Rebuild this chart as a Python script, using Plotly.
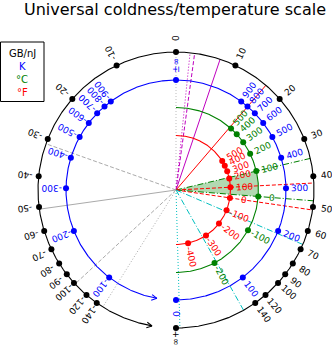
import numpy as np
import plotly.graph_objects as go

# ---------------- data ----------------
C_K = 13062.0          # coldness (GB/nJ) * temperature (K)
B0 = 44.2              # coldness at the 90 degree position

coldness_ticks = [0, 10, 20, 30, 40, 50, 60, 70, 80, 90, 100, 120, 140,
                  -10, -20, -30, -40, -50, -60, -70, -80, -90, -100, -120, -140]
coldness_labels = [str(v) for v in coldness_ticks]
kelvin_ticks = [100, 200, 300, 400, 500, 600, 700, 800, 900,
                -100, -200, -300, -400, -500, -600, -700, -800, -900]
celsius_ticks = [-200, -100, 0, 100, 200, 300, 400, 500]
fahrenheit_ticks = [-400, -300, -200, -100, 0, 100, 200, 300, 400, 500]

# reference temperatures (K) drawn as rays: (T, colour, dash)
ref_T = [5778, 4350, 1800, 798, 373.15, 273.15, 310.93, 255.37, 194.7, 77.36, 4.2,
         -418.7, -256.9, -128.6, -84.8]
ref_color = ['#bf00bf', '#bf00bf', '#bf00bf', 'red', 'green', 'green', 'red', 'red',
             '#00bfbf', '#00bfbf', '#00bfbf', '#aaaaaa', '#aaaaaa', '#aaaaaa', '#aaaaaa']
ref_dash = ['dot', 'dash', 'solid', 'solid', 'dashdot', 'dashdot', 'dash', 'dash',
            'dashdot', 'dashdot', 'dot', 'dash', 'solid', 'dash', 'dot']

legend_items = ['GB/nJ', 'K', '°C', '°F']
legend_colors = ['black', 'blue', 'green', 'red']

# ---------------- geometry ----------------
R_BLACK, R_BLUE, R_GREEN, R_RED = 138.0, 110.0, 82.5, 54.5
LABEL_OFF = 14.0
DASHES = {'dot': '1px,2px', 'dash': '4px,2px', 'dashdot': '6px,2px,1px,2px', 'solid': 'solid'}


def theta_beta(b):
    return 2 * np.degrees(np.arctan(np.asarray(b, dtype=float) / B0))


def beta_T(T):
    T = np.asarray(T, dtype=float)
    with np.errstate(divide='ignore'):
        return np.where(T == 0, np.inf, C_K / np.where(T == 0, 1, T))


def xy(r, th):
    t = np.radians(th)
    return r * np.sin(t), r * np.cos(t)


fig = go.Figure()
ann = []


def arc(r, t0, t1, color):
    th = np.linspace(t0, t1, 800)
    x, y = xy(r, th)
    fig.add_trace(go.Scatter(x=x, y=y, mode='lines', line=dict(color=color, width=1.1),
                             hoverinfo='skip'))


def chevron(r, th, color):
    px, py = xy(r, th)
    t = np.radians(th)
    d = np.array([-np.cos(t), np.sin(t)])
    for s in (1, -1):
        a = np.radians(28 * s)
        rot = np.array([[np.cos(a), -np.sin(a)], [np.sin(a), np.cos(a)]])
        v = rot @ d
        fig.add_trace(go.Scatter(x=[px - 6 * v[0], px], y=[py - 6 * v[1], py], mode='lines',
                                 line=dict(color=color, width=1.1), hoverinfo='skip'))


def dots(r, ths, color):
    x, y = xy(r, np.asarray(ths))
    fig.add_trace(go.Scatter(x=x, y=y, mode='markers',
                             marker=dict(color=color, size=6, line=dict(width=0)),
                             hoverinfo='skip'))


def labels(r, ths, texts, color, offs=None):
    for i, (th, tx) in enumerate(zip(ths, texts)):
        off = LABEL_OFF if offs is None else offs[i]
        x, y = xy(r + off, th)
        ang = th - 90
        while ang <= -180:
            ang += 360
        while ang > 180:
            ang -= 360
        ann.append(dict(x=x, y=y, xref='x', yref='y', text=tx, showarrow=False,
                        textangle=ang, font=dict(size=9, color=color, family='DejaVu Sans')))


# green shaded sector (0..100 degC)
t_a = float(theta_beta(beta_T(373.15)))
t_b = float(theta_beta(beta_T(273.15)))
th = np.linspace(t_a, t_b, 60)
sx, sy = xy(R_GREEN, th)
fig.add_trace(go.Scatter(x=np.r_[0, sx, 0], y=np.r_[0, sy, 0], mode='lines', fill='toself',
                         fillcolor='rgba(0,128,0,0.3)', line=dict(width=0), hoverinfo='skip'))

# rays
fig.add_trace(go.Scatter(x=[0, 0], y=[0, R_BLACK], mode='lines',
                         line=dict(color='#bbbbbb', width=1, dash=DASHES['dot']), hoverinfo='skip'))
ref_th = theta_beta(beta_T(ref_T))
for t, c, d in zip(ref_th, ref_color, ref_dash):
    x, y = xy(np.array([0, R_BLACK]), np.array([t, t]))
    fig.add_trace(go.Scatter(x=x, y=y, mode='lines', line=dict(color=c, width=1, dash=DASHES[d]),
                             hoverinfo='skip'))

# circles
arc(R_BLACK, -170, 180, 'black')
chevron(R_BLACK, -170, 'black')
arc(R_BLUE, -170, 180, 'blue')
chevron(R_BLUE, -170, 'blue')
arc(R_GREEN, 0, 180, 'green')
arc(R_RED, 0, 180, 'red')

# black: coldness
bt = list(theta_beta(coldness_ticks)) + [180.0]
dots(R_BLACK, bt, 'black')
labels(R_BLACK, bt, coldness_labels + ['+∞'], 'black',
       offs=[LABEL_OFF] * len(coldness_ticks) + [9.5])

# blue: kelvin
kt = list(theta_beta(beta_T(kelvin_ticks))) + [0.0, 180.0]
dots(R_BLUE, kt, 'blue')
labels(R_BLUE, kt, [str(v) for v in kelvin_ticks] + ['±∞', '0'], 'blue')

# green: celsius
ct = theta_beta(beta_T(np.array(celsius_ticks) + 273.15))
dots(R_GREEN, ct, 'green')
labels(R_GREEN, ct, [str(v) for v in celsius_ticks], 'green')

# red: fahrenheit
ft = theta_beta(beta_T((np.array(fahrenheit_ticks) + 459.67) / 1.8))
dots(R_RED, ft, 'red')
labels(R_RED, ft, [str(v) for v in fahrenheit_ticks], 'red')

# legend box
shapes = [dict(type='rect', xref='x', yref='y', x0=-175.5, x1=-132, y0=148, y1=88.5,
               line=dict(color='black', width=1), fillcolor='white', layer='above')]
for i, (t, c) in enumerate(zip(legend_items, legend_colors)):
    ann.append(dict(x=-154, y=137 - 13.3 * i, xref='x', yref='y', text=t, showarrow=False,
                    font=dict(size=10, color=c, family='DejaVu Sans')))

ann.append(dict(x=-1, y=180.5, xref='x', yref='y', text='Universal coldness/temperature scale',
                showarrow=False, font=dict(size=16, color='black', family='DejaVu Sans')))

fig.update_layout(
    width=332, height=345, margin=dict(l=0, r=0, t=0, b=0),
    paper_bgcolor='white', plot_bgcolor='white', showlegend=False,
    xaxis=dict(range=[-176, 156], visible=False, fixedrange=True),
    yaxis=dict(range=[-155, 190], visible=False, fixedrange=True),
    annotations=ann, shapes=shapes,
)
fig.write_html('out.html')
